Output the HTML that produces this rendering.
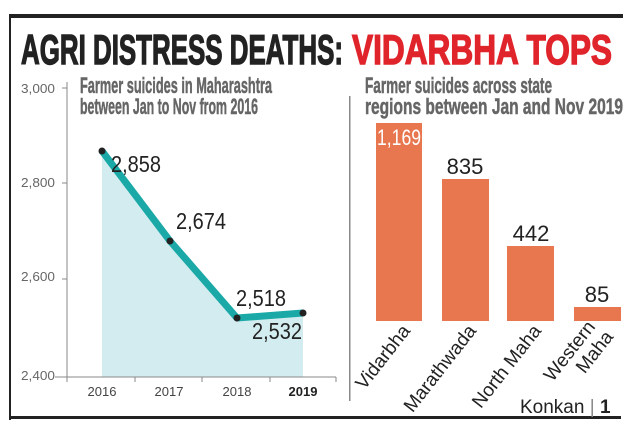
<!DOCTYPE html>
<html><head><meta charset="utf-8"><style>
html,body{margin:0;padding:0;background:#fff;}
svg{display:block;}
text{font-family:"Liberation Sans",sans-serif;}
</style></head><body>
<svg width="635" height="437" viewBox="0 0 635 437" xmlns="http://www.w3.org/2000/svg">
<rect width="635" height="437" fill="#fff"/>
<rect x="9" y="14" width="614" height="4" fill="#222"/>
<rect x="9" y="14" width="2" height="406" fill="#222"/>
<rect x="9" y="416" width="612" height="3" fill="#222"/>
<text x="21" y="64" font-size="42" font-weight="bold" fill="#222" stroke="#222" stroke-width="1.4" textLength="322" lengthAdjust="spacingAndGlyphs">AGRI DISTRESS DEATHS:</text>
<text x="352" y="64" font-size="42" font-weight="bold" fill="#e0242b" stroke="#e0242b" stroke-width="1.4" textLength="260" lengthAdjust="spacingAndGlyphs">VIDARBHA TOPS</text>
<g font-size="22" font-weight="bold" fill="#666" stroke="#666" stroke-width="0.5">
<text x="80" y="93" textLength="192" lengthAdjust="spacingAndGlyphs">Farmer suicides in Maharashtra</text>
<text x="80" y="114" textLength="178" lengthAdjust="spacingAndGlyphs">between Jan to Nov from 2016</text>
<text x="365" y="93" textLength="187" lengthAdjust="spacingAndGlyphs">Farmer suicides across state</text>
<text x="365" y="114" textLength="258" lengthAdjust="spacingAndGlyphs">regions between Jan and Nov 2019</text>
</g>
<rect x="349" y="96" width="1.5" height="305" fill="#888"/>
<polygon points="102,151 170,241 237,318 303,313 303,377 102,377" fill="#d3ecef"/>
<line x1="67" y1="82" x2="67" y2="377" stroke="#888" stroke-width="1"/>
<line x1="62" y1="88" x2="67" y2="88" stroke="#888"/>
<line x1="62" y1="183" x2="67" y2="183" stroke="#888"/>
<line x1="62" y1="279" x2="67" y2="279" stroke="#888"/>
<line x1="55" y1="377" x2="336" y2="377" stroke="#888"/>
<g stroke="#888"><line x1="67" y1="377" x2="67" y2="382"/><line x1="135" y1="377" x2="135" y2="382"/><line x1="202" y1="377" x2="202" y2="382"/><line x1="270" y1="377" x2="270" y2="382"/><line x1="336" y1="377" x2="336" y2="382"/></g>
<g font-size="13" fill="#666" text-anchor="end">
<text x="55" y="93" textLength="34" lengthAdjust="spacingAndGlyphs">3,000</text>
<text x="55" y="187" textLength="34" lengthAdjust="spacingAndGlyphs">2,800</text>
<text x="55" y="281" textLength="34" lengthAdjust="spacingAndGlyphs">2,600</text>
<text x="55" y="380" textLength="34" lengthAdjust="spacingAndGlyphs">2,400</text>
</g>
<g font-size="13" fill="#444" text-anchor="middle">
<text x="102" y="396">2016</text><text x="169" y="396">2017</text><text x="237" y="396">2018</text><text x="303" y="396" font-weight="bold" fill="#222">2019</text>
</g>
<polyline points="102,151 170,241 237,318 303,313" fill="none" stroke="#1aa9a7" stroke-width="7" stroke-linejoin="round"/>
<g fill="#222"><circle cx="102" cy="151" r="3.5"/><circle cx="170" cy="241" r="3.5"/><circle cx="237" cy="318" r="3.5"/><circle cx="303" cy="313" r="3.5"/></g>
<g font-size="23" fill="#222">
<text x="111" y="172" textLength="50" lengthAdjust="spacingAndGlyphs">2,858</text>
<text x="176" y="229" textLength="50" lengthAdjust="spacingAndGlyphs">2,674</text>
<text x="236" y="306" textLength="50" lengthAdjust="spacingAndGlyphs">2,518</text>
<text x="252" y="339" textLength="50" lengthAdjust="spacingAndGlyphs">2,532</text>
</g>
<g fill="#e8774f">
<rect x="376" y="123" width="46" height="198"/>
<rect x="442" y="179" width="47" height="142"/>
<rect x="507" y="246" width="47" height="75"/>
<rect x="574" y="307" width="47" height="14"/>
</g>
<g font-size="22" text-anchor="middle">
<text x="399" y="145" fill="#fff" textLength="44" lengthAdjust="spacingAndGlyphs">1,169</text>
<text x="465" y="174" fill="#222">835</text>
<text x="531" y="241" fill="#222">442</text>
<text x="597" y="302" fill="#222">85</text>
</g>
<g font-size="19" fill="#222" text-anchor="end">
<text transform="translate(411,331) rotate(-52)">Vidarbha</text>
<text transform="translate(477,331) rotate(-52)">Marathwada</text>
<text transform="translate(542,331) rotate(-52)">North Maha</text>
<text transform="translate(596,327) rotate(-52)">Western</text>
<text transform="translate(614,337) rotate(-52)">Maha</text>
</g>
<text x="520" y="413" font-size="19" fill="#222">Konkan <tspan fill="#888">|</tspan> <tspan font-weight="bold">1</tspan></text>
</svg>
</body></html>
